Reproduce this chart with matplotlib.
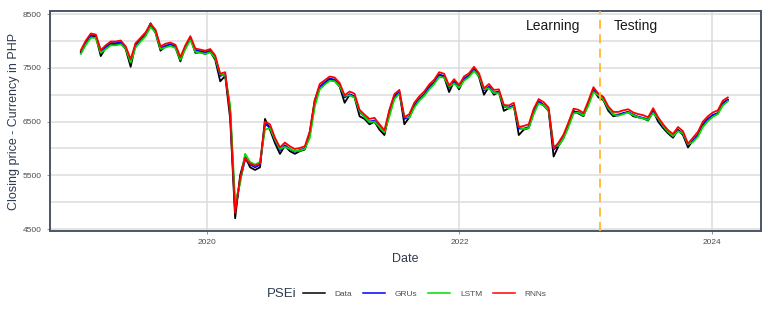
import matplotlib
matplotlib.use("Agg")
import matplotlib.pyplot as plt
import matplotlib.dates as mdates
from matplotlib.lines import Line2D
import pandas as pd

plt.rcParams['font.family'] = ['Liberation Sans', 'DejaVu Sans']

# ---- data (biweekly samples) ----
start_date = "2019-01-02"
end_date = "2024-02-16"

data_vals = [
    7780, 7980, 8100, 8080, 7720, 7880, 7950, 7930, 7960, 7850,
    7520, 7950, 8020, 8120, 8330, 8150, 7820, 7900, 7920, 7880,
    7620, 7900, 8060, 7780, 7790, 7760, 7800, 7650, 7250, 7350,
    6550, 4700, 5500, 5850, 5650, 5600, 5650, 6550, 6350, 6100,
    5900, 6050, 5950, 5900, 5950, 5980, 6300, 6900, 7150, 7200,
    7300, 7260, 7150, 6850, 7000, 6950, 6600, 6550, 6450, 6500,
    6350, 6250, 6700, 6980, 7050, 6450, 6580, 6800, 6920, 7000,
    7150, 7230, 7380, 7330, 7050, 7250, 7100, 7300, 7350, 7480,
    7330, 7000, 7150, 7000, 7050, 6700, 6750, 6800, 6250, 6350,
    6380, 6700, 6880, 6800, 6700, 5850, 6050, 6200, 6450, 6700,
    6650, 6600, 6850, 7100, 6950, 6900, 6700, 6600, 6620, 6650,
    6680, 6600, 6580, 6560, 6520, 6700, 6500, 6380, 6280, 6200,
    6350, 6250, 6020, 6150, 6250, 6450, 6550, 6620, 6650, 6850, 6900,
]
gru_vals = [
    7800, 7960, 8110, 8100, 7800, 7890, 7960, 7960, 7980, 7880,
    7620, 7920, 8030, 8130, 8300, 8180, 7870, 7910, 7940, 7900,
    7680, 7880, 8060, 7830, 7810, 7790, 7820, 7690, 7350, 7380,
    6700, 4850, 5400, 5800, 5700, 5650, 5700, 6450, 6400, 6150,
    5970, 6060, 5990, 5940, 5970, 6000, 6250, 6850, 7150, 7230,
    7300, 7280, 7180, 6950, 7010, 6970, 6680, 6590, 6500, 6520,
    6410, 6300, 6650, 6960, 7050, 6550, 6590, 6790, 6920, 7010,
    7140, 7230, 7370, 7350, 7130, 7240, 7140, 7290, 7360, 7470,
    7360, 7080, 7150, 7040, 7060, 6780, 6760, 6800, 6370, 6370,
    6400, 6680, 6870, 6810, 6720, 5980, 6060, 6210, 6430, 6680,
    6680, 6620, 6830, 7090, 6990, 6920, 6740, 6630, 6630, 6660,
    6680, 6630, 6590, 6570, 6540, 6690, 6550, 6410, 6300, 6230,
    6340, 6280, 6060, 6140, 6250, 6430, 6540, 6620, 6660, 6830, 6910,
]
lstm_vals = [
    7760, 7930, 8060, 8060, 7780, 7850, 7920, 7920, 7940, 7860,
    7600, 7880, 7990, 8090, 8260, 8160, 7850, 7880, 7910, 7870,
    7650, 7850, 8020, 7800, 7780, 7760, 7790, 7680, 7380, 7360,
    6800, 5000, 5350, 5900, 5750, 5700, 5750, 6350, 6380, 6170,
    5990, 6030, 5990, 5950, 5960, 5990, 6200, 6780, 7100, 7190,
    7260, 7250, 7160, 6980, 6990, 6950, 6700, 6580, 6490, 6500,
    6400, 6300, 6600, 6920, 7020, 6600, 6570, 6760, 6890, 6980,
    7100, 7200, 7330, 7320, 7150, 7210, 7130, 7260, 7330, 7440,
    7350, 7100, 7120, 7030, 7030, 6800, 6740, 6780, 6400, 6360,
    6380, 6640, 6840, 6800, 6710, 6050, 6050, 6190, 6400, 6650,
    6670, 6610, 6800, 7050, 6990, 6910, 6750, 6630, 6610, 6640,
    6670, 6620, 6580, 6560, 6530, 6660, 6560, 6420, 6310, 6230,
    6320, 6280, 6080, 6120, 6220, 6400, 6510, 6590, 6640, 6800, 6880,
]
rnn_vals = [
    7830, 8010, 8140, 8120, 7830, 7920, 7990, 7990, 8010, 7900,
    7660, 7960, 8060, 8160, 8320, 8210, 7900, 7950, 7970, 7930,
    7700, 7920, 8090, 7860, 7840, 7820, 7850, 7730, 7390, 7420,
    6650, 4800, 5450, 5820, 5720, 5680, 5720, 6500, 6450, 6200,
    6020, 6110, 6040, 5990, 6010, 6040, 6320, 6900, 7200, 7270,
    7340, 7320, 7220, 6990, 7060, 7020, 6720, 6630, 6550, 6570,
    6450, 6340, 6720, 7010, 7090, 6580, 6640, 6850, 6970, 7060,
    7190, 7280, 7420, 7390, 7170, 7290, 7180, 7340, 7400, 7520,
    7400, 7120, 7200, 7090, 7100, 6810, 6800, 6850, 6400, 6420,
    6450, 6740, 6920, 6860, 6760, 6000, 6110, 6260, 6490, 6740,
    6720, 6660, 6890, 7140, 7020, 6960, 6780, 6680, 6680, 6710,
    6730, 6670, 6640, 6620, 6580, 6750, 6580, 6450, 6340, 6270,
    6400, 6320, 6090, 6200, 6310, 6500, 6600, 6670, 6710, 6890, 6950,
]
series_names = ["Data", "GRUs", "LSTM", "RNNs"]
series_colors = ["#000000", "#0000FF", "#00DD00", "#FF0000"]
split_date = "2023-02-10"
y_ticks = [4500, 5500, 6500, 7500, 8500]
x_tick_years = [2020, 2022, 2024]

dates = pd.date_range(start_date, end_date, periods=len(data_vals))

fig = plt.figure(figsize=(7.71, 3.09), dpi=100)
ax = fig.add_axes([0.065, 0.252, 0.922, 0.712])

for vals, name, col in zip([data_vals, gru_vals, lstm_vals, rnn_vals], series_names, series_colors):
    ax.plot(dates, vals, color=col, lw=1.3, label=name, zorder=3)

ax.axvline(pd.Timestamp(split_date), color="#FFB833", lw=1.3, ls=(0, (5, 3)), zorder=4)
ax.text(pd.Timestamp("2022-09-28"), 8280, "Learning", ha="center", va="center", fontsize=10, color="#1a1a1a")
ax.text(pd.Timestamp("2023-05-26"), 8280, "Testing", ha="center", va="center", fontsize=10, color="#1a1a1a")

ax.set_xlim(pd.Timestamp("2018-10-05"), pd.Timestamp("2024-05-22"))
ax.set_ylim(4462, 8556)
ax.set_yticks(y_ticks)
ax.set_yticks([5000, 6000, 7000, 8000], minor=True)
ax.set_xticks([pd.Timestamp(f"{y}-01-01") for y in x_tick_years])
ax.xaxis.set_major_formatter(mdates.DateFormatter("%Y"))

ax.grid(True, which="both", axis="y", color="#DCDCDC", lw=1.1, zorder=0)
ax.grid(True, which="major", axis="x", color="#DCDCDC", lw=1.1, zorder=0)
ax.set_axisbelow(True)
ax.tick_params(axis="both", which="major", labelsize=6, colors="#7F7F7F", length=2.5, width=0.6, labelcolor="#4D4D4D")
ax.tick_params(axis="y", which="minor", length=0)
for s in ax.spines.values():
    s.set_color("#4A5566")
    s.set_linewidth(1.4)

ax.set_xlabel("Date", fontsize=9, color="#2E3B4E", labelpad=5)
ax.set_ylabel("Closing price - Currency in PHP", fontsize=9, color="#2E3B4E", labelpad=2)

handles = [Line2D([0], [0], color=c, lw=1.1) for c in series_colors]
fig.text(0.346, 0.049, "PSEi", fontsize=9.5, color="#2E3B4E", ha="left", va="center")
leg = fig.legend(handles, series_names, loc="center", bbox_to_anchor=(0.551, 0.049), ncol=4,
                 frameon=False, fontsize=6, handlelength=2.6, handletextpad=1.2, columnspacing=1.3)
for t in leg.get_texts():
    t.set_color("#4D4D4D")

fig.savefig("out.png", dpi=100)
